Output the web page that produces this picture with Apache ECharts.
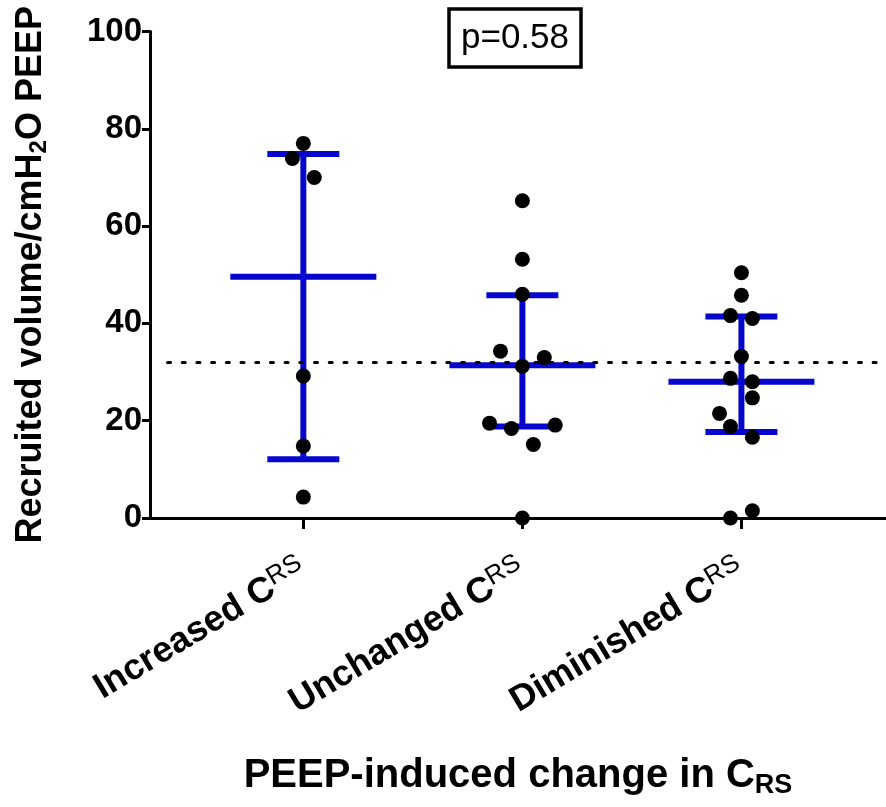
<!DOCTYPE html>
<html>
<head>
<meta charset="utf-8">
<script src="https://cdn.jsdelivr.net/npm/echarts@6/dist/echarts.min.js"></script>
<style>html,body{margin:0;padding:0;background:#fff;}#c{width:886px;height:807px;}</style>
</head>
<body>
<div id="c"></div>
<script>
// ---- data ----
const categories = ['Increased', 'Unchanged', 'Diminished'];
const categoryPos = [1, 2, 3];
const increased = [77.0, 73.9, 70.0, 29.2, 14.8, 4.3];
const increasedJitter = [0, -1, 1, 0, 0, 0];
const unchanged = [65.2, 53.2, 46.0, 34.3, 33.0, 31.2, 19.5, 18.4, 19.1, 15.1, 0.0];
const unchangedJitter = [0, 0, 0, -2, 2, 0, -3, -1, 3, 1, 0];
const diminished = [50.4, 45.8, 41.6, 41.0, 33.2, 28.7, 28.0, 24.7, 21.5, 18.8, 16.6, 0.0, 1.5];
const diminishedJitter = [0, 0, -1, 1, 0, -1, 1, 1, -2, -1, 1, -1, 1];
const medians = [49.6, 31.4, 28.0];
const lowerQ = [12.1, 18.8, 17.7];
const upperQ = [74.8, 45.8, 41.4];
const refValue = 32;
const pLabel = 'p=0.58';
const yTicks = [0, 20, 40, 60, 80, 100];

// ---- build ----
const JSTEP = 0.05;
const BLUE = '#0606cc';
const FONT = 'Liberation Sans';
const groups = [increased, unchanged, diminished];
const jitters = [increasedJitter, unchangedJitter, diminishedJitter];
const scatterData = [];
groups.forEach((g, gi) => g.forEach((v, i) => scatterData.push([categoryPos[gi] + jitters[gi][i] * JSTEP, v])));
const barData = categoryPos.map((x, i) => [x, lowerQ[i], medians[i], upperQ[i]]);

function renderItem(params, api) {
  const x = api.value(0);
  const lo = api.coord([x, api.value(1)]);
  const md = api.coord([x, api.value(2)]);
  const hi = api.coord([x, api.value(3)]);
  const style = { stroke: BLUE, lineWidth: 6 };
  const cap = 36, mw = 73;
  return {
    type: 'group',
    children: [
      { type: 'line', shape: { x1: lo[0], y1: lo[1], x2: hi[0], y2: hi[1] }, style },
      { type: 'line', shape: { x1: lo[0] - cap, y1: lo[1], x2: lo[0] + cap, y2: lo[1] }, style },
      { type: 'line', shape: { x1: hi[0] - cap, y1: hi[1], x2: hi[0] + cap, y2: hi[1] }, style },
      { type: 'line', shape: { x1: md[0] - mw, y1: md[1], x2: md[0] + mw, y2: md[1] }, style }
    ]
  };
}

const chart = echarts.init(document.getElementById('c'), null, { renderer: 'canvas' });
chart.setOption({
  animation: false,
  backgroundColor: '#fff',
  title: {
    text: pLabel,
    left: 449, top: 9,
    padding: [9, 12],
    borderColor: '#000', borderWidth: 3.5,
    textStyle: { fontFamily: FONT, fontSize: 35, fontWeight: 'normal', color: '#000', lineHeight: 40 }
  },
  grid: { left: 150, right: 0, top: 31.5, bottom: 289, containLabel: false, outerBoundsMode: 'none' },
  xAxis: {
    type: 'value', min: 0.3, max: 3.66,
    name: 'PEEP-induced change in C{sub|RS}',
    nameLocation: 'middle', nameGap: 235,
    nameTextStyle: {
      fontFamily: FONT, fontSize: 40, fontWeight: 'bold', color: '#000', lineHeight: 46,
      rich: { sub: { fontFamily: FONT, fontSize: 27, fontWeight: 'bold', color: '#000', verticalAlign: 'bottom', lineHeight: 16 } }
    },
    axisLine: { show: true, onZero: false, lineStyle: { color: '#000', width: 3 } },
    axisTick: { show: true, customValues: categoryPos, length: 11, lineStyle: { color: '#000', width: 3 } },
    splitLine: { show: false },
    axisLabel: {
      customValues: categoryPos,
      rotate: 31, margin: 49,
      fontFamily: FONT, fontSize: 36, fontWeight: 'bold', color: '#000', lineHeight: 40,
      formatter: v => { const i = categoryPos.indexOf(v); return i < 0 ? '' : categories[i] + ' C{sup|RS}'; },
      rich: { sup: { fontFamily: FONT, fontSize: 26, fontWeight: 'normal', color: '#000', verticalAlign: 'top', lineHeight: 22 } }
    }
  },
  yAxis: {
    type: 'value', min: yTicks[0], max: yTicks[yTicks.length - 1], interval: 20,
    name: 'Recruited volume/cmH{sub|2}O PEEP',
    nameLocation: 'middle', nameGap: 99,
    nameTextStyle: {
      fontFamily: FONT, fontSize: 36, fontWeight: 'bold', color: '#000', lineHeight: 40,
      rich: { sub: { fontFamily: FONT, fontSize: 24, fontWeight: 'bold', color: '#000', verticalAlign: 'bottom', lineHeight: 16 } }
    },
    axisLine: { show: true, lineStyle: { color: '#000', width: 3 } },
    axisTick: { show: true, length: 8, lineStyle: { color: '#000', width: 3 } },
    splitLine: { show: false },
    axisLabel: { margin: 8, fontFamily: FONT, fontSize: 33, fontWeight: 'bold', color: '#000' }
  },
  series: [
    {
      type: 'custom', renderItem, data: barData, z: 2,
      encode: { x: 0, y: [1, 2, 3] },
      markLine: {
        silent: true, symbol: 'none', animation: false,
        label: { show: false },
        lineStyle: { color: '#000', width: 3, type: [3, 11.7], cap: 'round' },
        data: [[{ coord: [0.38, refValue] }, { coord: [3.66, refValue] }]]
      }
    },
    {
      type: 'scatter', data: scatterData, z: 5,
      symbol: 'circle', symbolSize: 15,
      itemStyle: { color: '#000', opacity: 1 }
    }
  ]
});
</script>
</body>
</html>
